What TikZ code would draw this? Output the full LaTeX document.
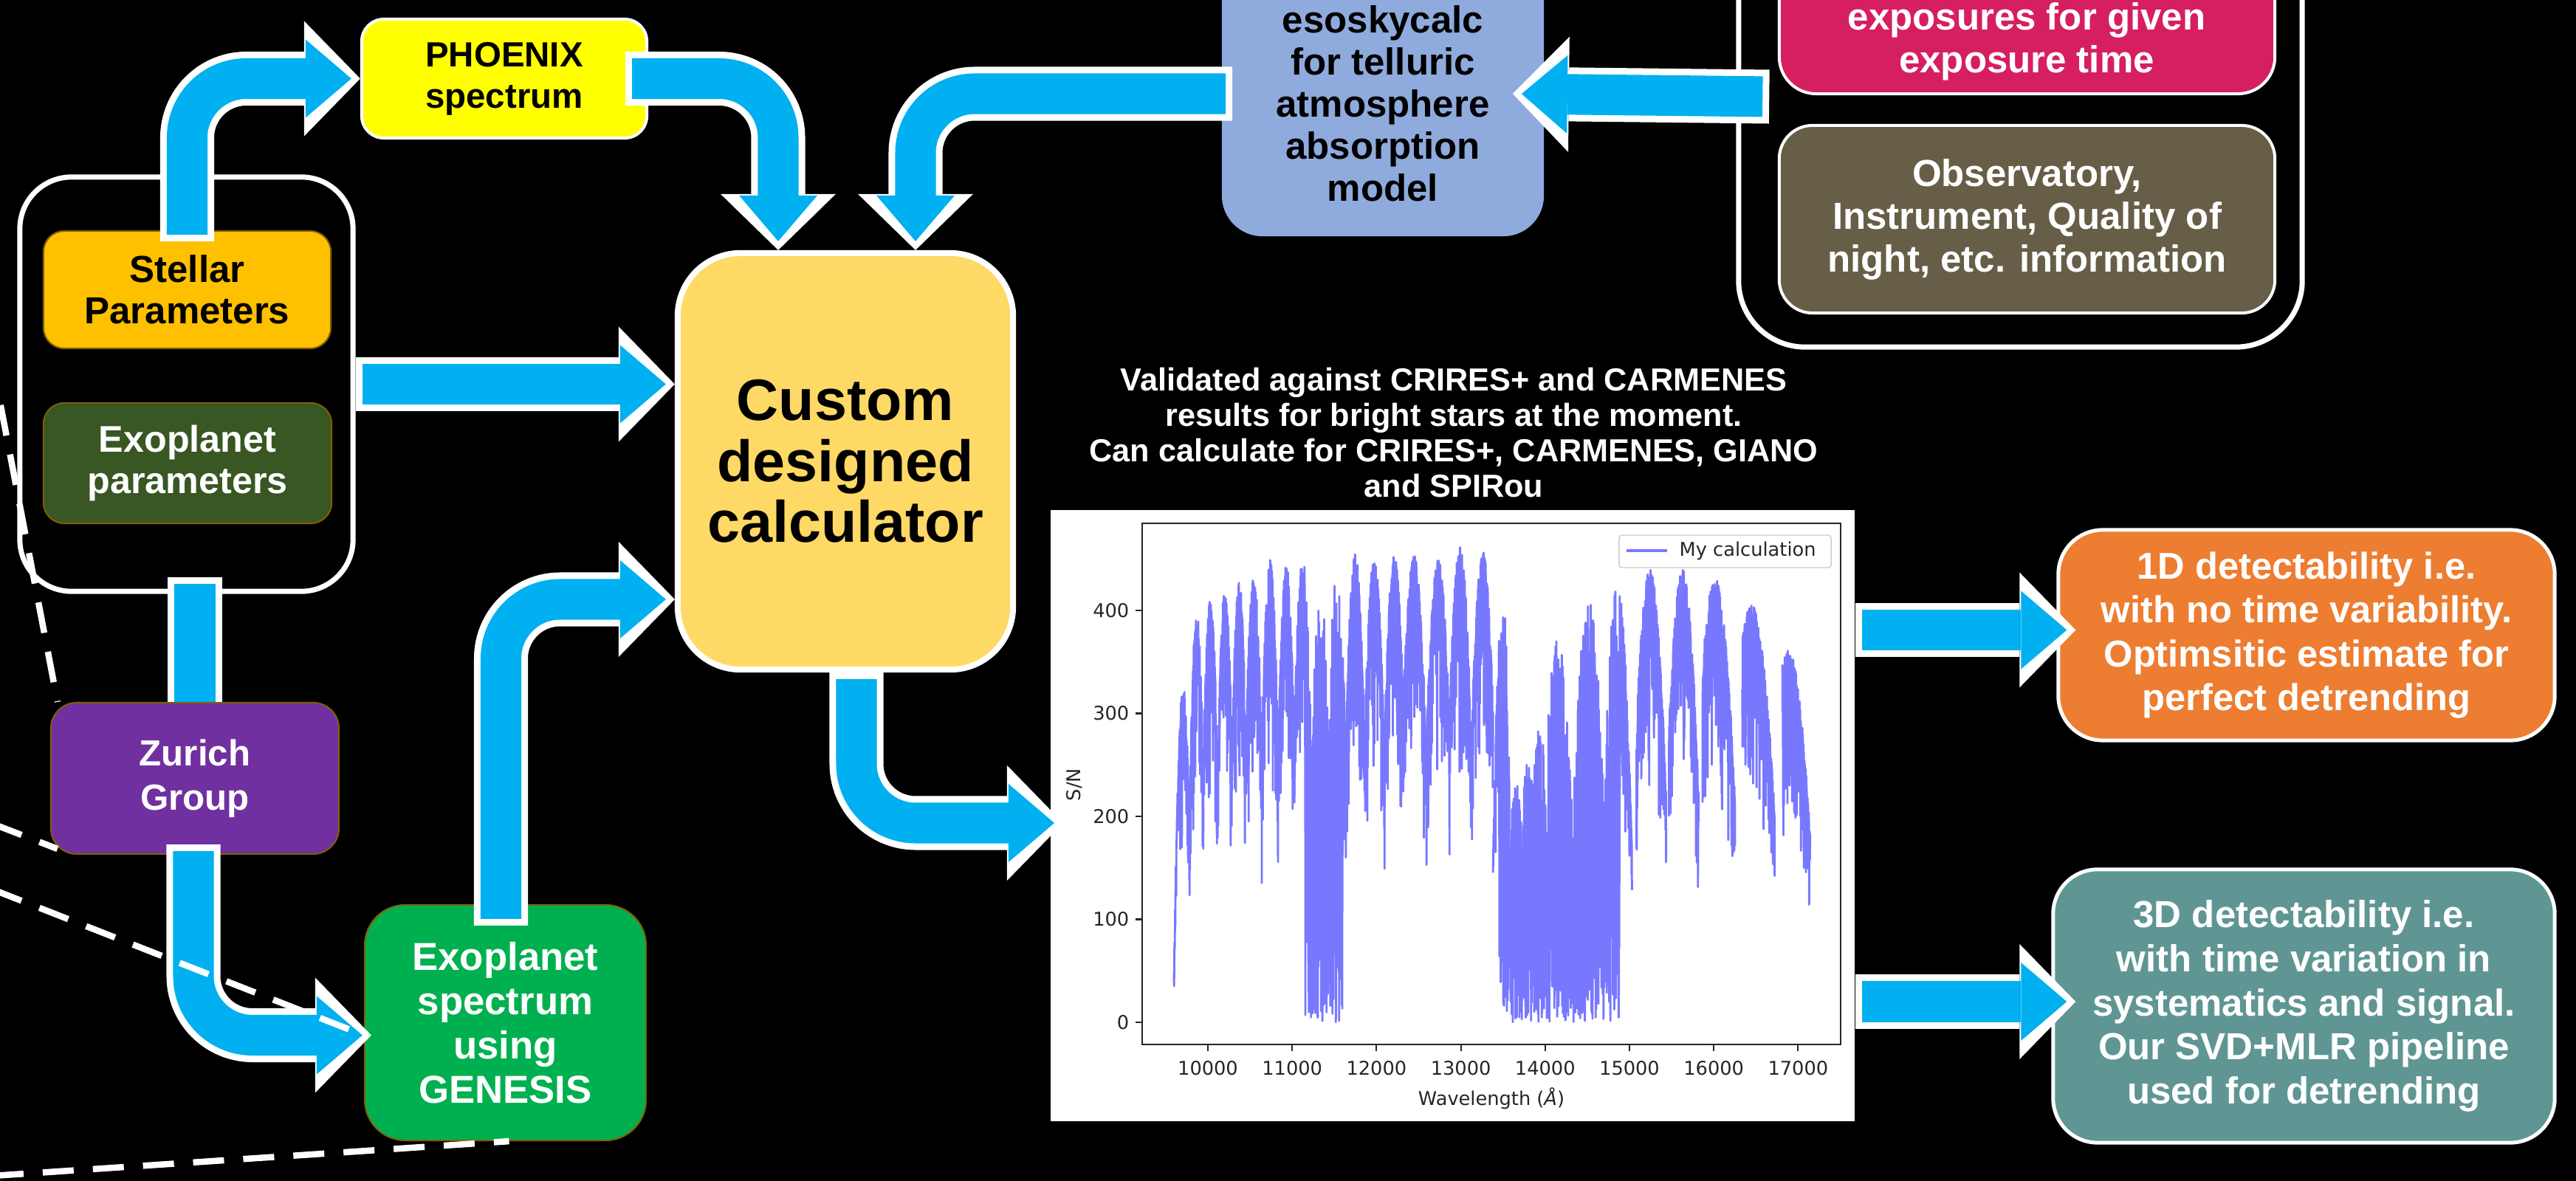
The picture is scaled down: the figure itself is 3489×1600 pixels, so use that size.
\documentclass[tikz,border=0pt]{standalone}
\usepackage{fontspec}
\setmainfont{Liberation Sans}
\newfontfamily\plotfont{DejaVu Sans}
\usetikzlibrary{arrows.meta,calc}

\definecolor{arrowblue}{RGB}{0,176,240}
\definecolor{phoenixyellow}{RGB}{255,255,0}
\definecolor{stellarorange}{RGB}{255,192,0}
\definecolor{exoparamgreen}{RGB}{56,87,35}
\definecolor{zurichpurple}{RGB}{112,48,160}
\definecolor{genesisgreen}{RGB}{0,176,80}
\definecolor{calcyellow}{RGB}{255,217,102}
\definecolor{esoblue}{RGB}{143,170,220}
\definecolor{exppink}{RGB}{214,31,96}
\definecolor{obsbrown}{RGB}{103,94,72}
\definecolor{oneorange}{RGB}{237,125,49}
\definecolor{threeteal}{RGB}{95,150,148}
\definecolor{edgebrown}{RGB}{127,96,0}
\definecolor{specblue}{RGB}{120,120,255}
\definecolor{axisgray}{RGB}{38,38,38}
\definecolor{legendgray}{RGB}{204,204,204}

\tikzset{
  fsz/.style 2 args={font=\fontsize{#1}{#2}\selectfont\bfseries},
  card/.style={rectangle, inner sep=0pt, align=center},
  groupbox/.style={card, draw=white, line width=0.07cm, fill=black},
  fatwhite/.style={draw=white, line width=0.73cm, rounded corners=0.8cm,
     -{Triangle[length=7.6mm,width=15.6mm,line width=0pt]}},
  fatblue/.style={draw=arrowblue, line width=0.55cm, rounded corners=0.8cm,
     shorten <=0.09cm, shorten >=1.2mm,
     -{Triangle[length=6.2mm,width=10.6mm,line width=0pt]}},
  barwhite/.style={draw=white, line width=0.73cm},
  barblue/.style={draw=arrowblue, line width=0.55cm, shorten <=0.09cm},
  callout/.style={draw=white, line width=0.085cm, dash pattern=on 0.42cm off 0.26cm},
  spec/.style={draw=specblue, line width=0.8pt, line join=round},
  axisline/.style={draw=axisgray, line width=0.6pt},
  plotlab/.style={font=\plotfont\fontsize{7.3}{8.5}\selectfont, text=axisgray, inner sep=0pt},
}
\newcommand\fatarrow[1]{\draw[fatwhite] #1; \draw[fatblue] #1;}
\newcommand\fatbar[1]{\draw[barwhite] #1; \draw[barblue] #1;}

\begin{document}
\begin{tikzpicture}[x=0.01cm,y=-0.01cm]
\useasboundingbox (0,0) rectangle (3489,1600);
\fill[black] (0,0) rectangle (3489,1600);

% ---------- group frames ----------
\node[groupbox, rounded corners=0.7cm, minimum width=4.51cm, minimum height=5.61cm] (lgroup) at (252.5,520.5) {};
\node[groupbox, rounded corners=0.9cm, minimum width=7.63cm, minimum height=6.78cm] (rgroup) at (2736.5,131) {};

% ---------- boxes ----------
\node[card, fill=stellarorange, draw=edgebrown, line width=0.02cm, rounded corners=0.28cm,
      minimum width=3.89cm, minimum height=1.59cm, fsz={14.5}{16}] (stellar) at (253.5,392.5) {Stellar\\Parameters};
\node[card, fill=exoparamgreen, draw=edgebrown, line width=0.02cm, rounded corners=0.28cm,
      minimum width=3.9cm, minimum height=1.63cm, fsz={14.3}{16}, text=white] (exoparam) at (254,627.5) {Exoplanet\\parameters};
\node[card, fill=phoenixyellow, draw=white, line width=0.04cm, rounded corners=0.3cm,
      minimum width=3.86cm, minimum height=1.61cm, fsz={13.5}{16}] (phoenix) at (683,106.5) {PHOENIX\\spectrum};
\node[card, fill=zurichpurple, draw=edgebrown, line width=0.02cm, rounded corners=0.35cm,
      minimum width=3.9cm, minimum height=2.05cm, fsz={14}{17}, text=white] (zurich) at (264,1054.5) {Zurich\\Group};
\node[card, fill=genesisgreen, draw=edgebrown, line width=0.02cm, rounded corners=0.55cm,
      minimum width=3.81cm, minimum height=3.19cm, fsz={15}{17}, text=white] (genesis) at (684.5,1385.5) {Exoplanet\\spectrum\\using\\GENESIS};
\node[card, fill=calcyellow, draw=white, line width=0.08cm, rounded corners=0.85cm,
      minimum width=4.54cm, minimum height=5.64cm, fsz={22.5}{23.4}] (calc) at (1145,625) {Custom\\designed\\calculator};
\node[card, fill=esoblue, rounded corners=0.55cm, minimum width=4.36cm, minimum height=3.86cm] (eso) at (1873,127) {};
\node[card, fsz={14.5}{16.2}] (esotext) at (1873,140) {esoskycalc\\for telluric\\atmosphere\\absorption\\model};
\node[card, fill=exppink, draw=white, line width=0.04cm, rounded corners=0.5cm,
      minimum width=6.71cm, minimum height=2.77cm] (expo) at (2745.5,-11.5) {};
\node[card, fsz={14.5}{16.5}, text=white] (expotext) at (2745,56) {exposures for given\\exposure time};
\node[card, fill=obsbrown, draw=white, line width=0.04cm, rounded corners=0.45cm,
      minimum width=6.71cm, minimum height=2.54cm, fsz={14.5}{16.5}, text=white] (obs) at (2745.5,297) {Observatory,\\Instrument, Quality of\\night, etc. information};
\node[card, fill=oneorange, draw=white, line width=0.05cm, rounded corners=0.6cm,
      minimum width=6.72cm, minimum height=2.85cm, fsz={14.4}{16.9}, text=white] (oneD) at (3124,860.5)
      {1D detectability i.e.\\with no time variability.\\Optimsitic estimate for\\perfect detrending};
\node[card, fill=threeteal, draw=white, line width=0.05cm, rounded corners=0.6cm,
      minimum width=6.79cm, minimum height=3.7cm, fsz={14.5}{17}, text=white] (threeD) at (3120.5,1363)
      {3D detectability i.e.\\with time variation in\\systematics and signal.\\Our SVD+MLR pipeline\\used for detrending};
\node[card, fsz={12.3}{13.7}, text=white] (valid) at (1969,586)
      {Validated against CRIRES+ and CARMENES\\results for bright stars at the moment.\\Can calculate for CRIRES+, CARMENES, GIANO\\and SPIRou};

% ---------- S/N plot ----------
\node[card, fill=white, minimum width=10.89cm, minimum height=8.28cm] (snplot) at (1967.5,1105) {};
\begin{scope}[shift={(16.36cm,-13.85cm)}, x=0.001142cm, y=0.01395cm]
  \pgfmathsetseed{2024}
  \foreach \lo/\hi/\pk/\pv/\fa in {
      -410/-220/-301/327/0.85, -220/-60/-140/399/0.4, -60/108/21/411/0.4,
      108/278/194/421/0.4, 278/448/361/431/0.4, 448/630/534/435/0.4,
      630/824/727/450/0.4, 824/1016/920/445/0.4, 1016/1215/1112/452/0.4,
      1215/1418/1318/440/0.4, 1418/1626/1517/440/0.4, 1626/1848/1735/455/0.4,
      1848/2079/1960/452/0.4, 2079/2314/2198/456/0.4, 2314/2574/2429/454/0.4,
      2574/2846/2718/450/0.4, 2846/3110/2975/462/0.4, 3110/3366/3244/458/0.4,
      3366/3560/3480/408/0.6, 3560/3700/3640/240/0.3, 3700/3842/3778/270/0.4,
      3842/4018/3906/295/0.4, 4018/4314/4131/372/0.5, 4314/4667/4497/413/0.5,
      4667/5010/4837/428/0.6, 5062/5415/5222/440/0.5, 5447/5800/5608/440/0.5,
      5845/6230/5993/432/0.5, 6314/6700/6424/406/0.5, 6790/7120/6860/362/0.5}{
    \pgfmathsetmacro\hw{max(\pk-\lo,\hi-\pk)}
    \pgfmathtruncatemacro\ns{(\hi-\lo)/1.5}
    \draw[spec] plot[domain=\lo:\hi, samples=\ns]
      (\x,{\pv*(1-\fa*((\x-\pk)/\hw)*((\x-\pk)/\hw))*(1-ifthenelse(or(and(\x>1140,\x<1590),and(\x>3440,\x<4870)),rnd,0.5*rnd*rnd))});
  }
\end{scope}
\draw[axisline] (1547,709) rectangle (2493,1415);
\foreach \v in {0,100,200,300,400}{
  \draw[axisline] (1538,{1385-1.395*\v}) -- (1547,{1385-1.395*\v});
  \node[plotlab, anchor=east] (ytick\v) at (1530,{1385-1.395*\v}) {\v};
}
\foreach \k/\lab in {0/10000,1/11000,2/12000,3/13000,4/14000,5/15000,6/16000,7/17000}{
  \draw[axisline] ({1636+114.2*\k},1415) -- ({1636+114.2*\k},1424);
  \node[plotlab, anchor=north] (xtick\k) at ({1636+114.2*\k},1437) {\lab};
}
\node[plotlab] (xlabel) at (2020,1488) {Wavelength (\textit{Å})};
\node[plotlab, rotate=90] (ylabel) at (1455,1063) {S/N};
\node[draw=legendgray, fill=white, rounded corners=0.04cm, line width=0.4pt,
      minimum width=2.87cm, minimum height=0.44cm, inner sep=0pt] (legend) at (2336.5,747) {};
\draw[draw=specblue, line width=1pt] (2203,746) -- (2258,746);
\node[plotlab, anchor=west] (legtext) at (2274,746) {My calculation};

% ---------- flow arrows ----------
\fatarrow{($(stellar.north)+(0,15)$) |- (phoenix.west)}
\fatarrow{($(phoenix.east)+(-31,0)$) -| ($(calc.north)+(-91,0)$)}
\fatarrow{($(eso.west)+(15,0)$) -| ($(calc.north)+(95,0)$)}
\fatarrow{($(rgroup.west)+(45,0)$) -- ($(eso.east)+(-43,0)$)}
\fatarrow{(lgroup.east) -- (lgroup.east -| calc.west)}
\fatarrow{($(genesis.north)+(-6,29)$) |- ($(calc.west)+(0,187)$)}
\fatbar{($(zurich.north |- lgroup.south)+(0,-23)$) -- (zurich.north)}
\fatarrow{($(zurich.south)+(-2,-14)$) |- ($(genesis.west)+(10,17)$)}
\fatarrow{($(calc.south)+(15,0)$) |- ($(snplot.west)+(18,10)$)}
\fatarrow{($(snplot.east |- oneD.west)+(0,-7)$) -- ($(oneD.west)+(26,-7)$)}
\fatarrow{($(snplot.east |- threeD.west)+(0,-6)$) -- ($(threeD.west)+(33,-6)$)}

% ---------- dashed call-out lines ----------
\coordinate (farA) at (-12,482);
\coordinate (farB) at (-10,1116);
\coordinate (farC) at (-10,1205);
\coordinate (farD) at (-10,1593);
\draw[callout] (farA) -- ($(zurich.north west)+(10,0)$);
\draw[callout] (farB) -- ($(zurich.south west)+(10,-8)$);
\draw[callout] (farC) -- ($(genesis.west)+(0,17)$);
\draw[callout] (farD) -- ($(genesis.south)+(5,0)$);
\end{tikzpicture}
\end{document}
